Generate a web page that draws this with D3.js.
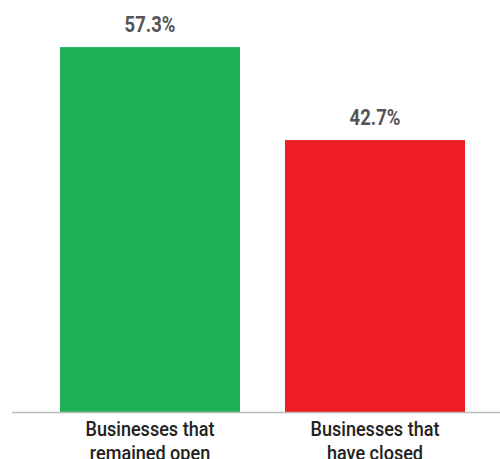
<!DOCTYPE html>
<html><head><meta charset="utf-8">
<script src="https://cdn.jsdelivr.net/npm/d3@7"></script>
<style>body{margin:0;background:#fff}</style>
</head><body>
<svg id="c" width="500" height="459"></svg>
<script>
const categories = ["Businesses that|remained open", "Businesses that|have closed"];
const values = [57.3, 42.7];
const valueLabels = ["57.3%", "42.7%"];
const colors = ["#1eb154", "#ee1c25"];

const svg = d3.select("#c");
const x = d3.scaleBand().domain(categories).range([37.5, 487.5]).paddingInner(0.2).paddingOuter(0.1);
const y = d3.scaleLinear().domain([0, 64.7]).range([412, 0]);

svg.selectAll("rect.bar").data(values).join("rect")
  .attr("class","bar")
  .attr("x",(d,i)=>x(categories[i]))
  .attr("width",x.bandwidth())
  .attr("y",d=>y(d))
  .attr("height",d=>y(0)-y(d))
  .attr("fill",(d,i)=>colors[i]);

svg.append("line").attr("x1",12).attr("x2",500).attr("y1",y(0)+0.5).attr("y2",y(0)+0.5)
  .attr("stroke","#bbb").attr("stroke-width",1.5);

const font = "Roboto,sans-serif";
svg.selectAll("text.val").data(values).join("text")
  .attr("class","val")
  .attr("transform",(d,i)=>`translate(${x(categories[i])+x.bandwidth()/2},${y(d)-15}) scale(0.84,1)`)
  .attr("text-anchor","middle")
  .attr("font-family",font).attr("font-weight","bold").attr("font-size",22)
  .attr("fill","#555")
  .text((d,i)=>valueLabels[i]);

categories.forEach((c,i)=>{
  const cx = x(c)+x.bandwidth()/2;
  const t = svg.append("text")
    .attr("transform",`translate(${cx},436) scale(0.86,1)`)
    .attr("text-anchor","middle")
    .attr("font-family",font).attr("font-weight",500).attr("font-size",21)
    .attr("fill","#222");
  c.split("|").forEach((line,j)=>{
    t.append("tspan").attr("x",0).attr("dy",j?24:0).text(line);
  });
});
</script>
</body></html>
